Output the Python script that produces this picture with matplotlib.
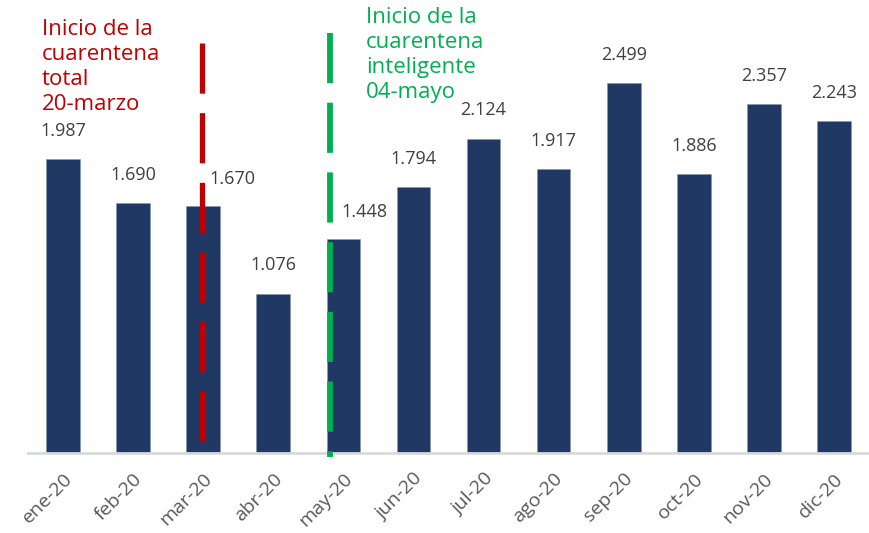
import matplotlib
matplotlib.use("Agg")
import matplotlib.pyplot as plt

months = ["ene-20", "feb-20", "mar-20", "abr-20", "may-20", "jun-20",
          "jul-20", "ago-20", "sep-20", "oct-20", "nov-20", "dic-20"]
values = [1.987, 1.690, 1.670, 1.076, 1.448, 1.794,
          2.124, 1.917, 2.499, 1.886, 2.357, 2.243]
labels = ["1.987", "1.690", "1.670", "1.076", "1.448", "1.794",
          "2.124", "1.917", "2.499", "1.886", "2.357", "2.243"]

red_pos = 1.98
green_pos = 3.81
red_text = "Inicio de la\ncuarentena\ntotal\n20-marzo"
green_text = "Inicio de la\ncuarentena\ninteligente\n04-mayo"

plt.rcParams['font.family'] = ['Open Sans', 'DejaVu Sans']

fig = plt.figure(figsize=(8.69, 5.33), dpi=100)
W, H = 869, 533
ax = fig.add_axes([28 / W, (H - 453) / H, (869 - 28) / W, 453 / H])
x = list(range(len(months)))
ax.bar(x, values, width=0.48, color="#203864", edgecolor="#8496B0", linewidth=0.4, zorder=2)
ax.set_xlim(-0.5, 11.5)
ax.set_ylim(0, 3.06)

for s in ["top", "right", "left"]:
    ax.spines[s].set_visible(False)
ax.spines["bottom"].set_color("#D9D9D9")
ax.spines["bottom"].set_linewidth(2)
ax.set_yticks([])
ax.set_xticks(x)
ax.set_xticklabels(months, rotation=45, ha="right", rotation_mode="anchor",
                   fontsize=14, color="#595959")
ax.tick_params(axis="x", length=0, pad=12)

offsets = {2: (0.42, 0.12), 4: (0.30, 0.12)}
for i, (v, lab) in enumerate(zip(values, labels)):
    dx, dy = offsets.get(i, (0.0, 0.13))
    ax.text(i + dx, v + dy, lab, ha="center", va="bottom", fontsize=13,
            color="#404040", zorder=3)

ax.plot([red_pos, red_pos], [2.77, 0.0], color="#C00000", lw=3.8,
        dashes=(9.5, 3.7), clip_on=False, zorder=4, dash_capstyle="butt")
ax.plot([green_pos, green_pos], [2.84, -0.025], color="#00B050", lw=4.2,
        dashes=(8.6, 3.35), clip_on=False, zorder=4, dash_capstyle="butt")

fig.text(42 / W, 1 - 19 / H, red_text, ha="left", va="top", fontsize=16,
         color="#C00000", linespacing=1.26)
fig.text(366 / W, 1 - 7 / H, green_text, ha="left", va="top", fontsize=16,
         color="#00B050", linespacing=1.26)

fig.savefig("out.png", dpi=100)
